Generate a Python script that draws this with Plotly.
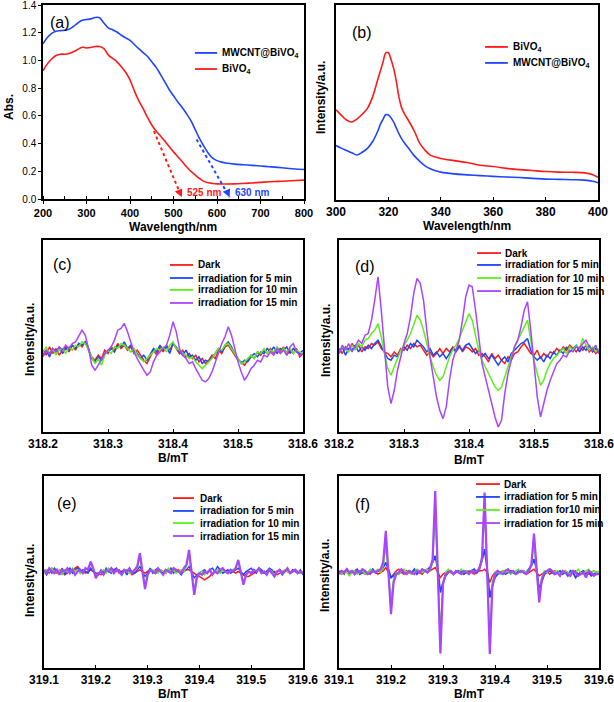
import plotly.graph_objects as go

W, H = 614, 702
FONT = "Liberation Sans, Arial, Helvetica, sans-serif"
RED, BLUE, GREEN, PURPLE = "#ff1a1a", "#1f45ff", "#5cf01a", "#a944ff"

# ---------------- (a) UV-vis absorbance ----------------
wl_a = [200, 210, 220, 230, 240, 250, 260, 270, 280, 290, 300, 310, 320, 330, 340, 350,
        360, 370, 380, 390, 400, 410, 420, 430, 440, 450, 460, 470, 480, 490, 500, 510,
        520, 530, 540, 550, 560, 570, 580, 590, 600, 610, 620, 640, 660, 680, 700, 720,
        740, 760, 780, 800]
abs_mwcnt = [1.12, 1.165, 1.195, 1.21, 1.215, 1.218, 1.225, 1.245, 1.27, 1.29, 1.295, 1.30,
             1.31, 1.308, 1.27, 1.235, 1.222, 1.205, 1.182, 1.163, 1.145, 1.115, 1.085, 1.057,
             1.03, 0.99, 0.95, 0.90, 0.845, 0.79, 0.745, 0.70, 0.66, 0.615, 0.565, 0.50, 0.435,
             0.38, 0.33, 0.295, 0.277, 0.266, 0.26, 0.252, 0.247, 0.243, 0.238, 0.233, 0.228,
             0.222, 0.217, 0.213]
abs_bivo4 = [0.925, 0.975, 1.01, 1.035, 1.045, 1.045, 1.05, 1.062, 1.08, 1.095, 1.09, 1.093,
             1.10, 1.10, 1.085, 1.04, 1.015, 0.99, 0.955, 0.915, 0.86, 0.78, 0.71, 0.654, 0.59,
             0.534, 0.49, 0.455, 0.418, 0.378, 0.34, 0.305, 0.27, 0.233, 0.20, 0.173, 0.148,
             0.127, 0.117, 0.112, 0.109, 0.108, 0.108, 0.109, 0.112, 0.116, 0.12, 0.124, 0.127,
             0.13, 0.133, 0.136]
tan_red_x = [455, 519]
tan_red_y = [0.49, 0.012]
tan_blue_x = [553, 629]
tan_blue_y = [0.43, 0.012]
edge_labels = ["525 nm", "630 nm"]
legend_a = ["MWCNT@BiVO<sub>4</sub>", "BiVO<sub>4</sub>"]

# ---------------- (b) PL spectra ----------------
wl_b = [300, 302, 304, 306, 308, 310, 312, 314, 316, 317, 318, 319, 320, 321, 322, 323, 324,
        325, 326, 328, 330, 332, 334, 336, 338, 340, 345, 350, 355, 360, 365, 370, 375, 380,
        385, 390, 395, 398, 400]
pl_bivo4 = [46.2, 43.5, 41, 40, 41.5, 44, 47, 53, 62, 66.5, 71, 75.5, 75.5, 72, 67.5, 61, 53,
            47.5, 44.5, 40, 35, 29, 25.5, 23, 22, 21.3, 20.2, 19.2, 17.8, 17.2, 16.2, 15.6,
            15.1, 14.6, 14.3, 14.2, 13.9, 13.0, 11.7]
pl_mwcnt = [27.9, 26.6, 25.4, 24.2, 23.1, 24.5, 26.5, 30, 35.5, 39, 41.5, 43.8, 43.6, 42.2, 40,
            37, 34, 31.5, 29.5, 26, 22.5, 19.8, 17.5, 16, 15, 14.3, 13.4, 12.9, 12.5, 12.1,
            11.8, 11.5, 11.1, 10.7, 10.6, 10.4, 10.2, 9.6, 8.8]
legend_b = ["BiVO<sub>4</sub>", "MWCNT@BiVO<sub>4</sub>"]

# ---------------- (c)-(f) EPR ----------------
field_cd_start, field_cd_step = 318.2, 0.005
field_ef_start, field_ef_step = 319.1, 0.005
ticks_cd = [318.2, 318.3, 318.4, 318.5, 318.6]
ticks_ef = [319.1, 319.2, 319.3, 319.4, 319.5, 319.6]
labels_cde = ["Dark", "irradiation for 5 min", "irradiation for 10 min", "irradiation for 15 min"]
labels_f = ["Dark", "irradiation for 5 min", "irradiation for10 min", "irradiation for 15 min"]

c_dark = [0.5, -1.0, 1.5, -0.5, 1.0, -1.0, 0.5, 1.5, 0.0, 2.0,
          0.5, 2.5, 1.5, 3.0, 0.5, -1.5, -2.5, -1.0, -2.0, 0.5,
          -0.5, 1.5, 0.5, 2.5, 1.0, 2.0, 0.5, 1.5, -0.5, 0.5,
          -1.0, -2.5, -3.5, -1.5, 0.5, -1.0, 1.5, 0.0, 2.0, 0.5,
          2.5, 1.0, -0.5, 0.5, -1.5, -0.5, -2.0, -1.0, -3.0, -2.0,
          -3.5, -2.5, -1.0, -2.0, 0.5, -0.5, 1.5, 2.0, 0.5, -1.0,
          -2.5, -3.0, -4.0, -2.5, -1.0, -2.0, 0.0, -1.0, 0.5, -0.5,
          1.0, -0.5, 1.5, 0.0, 1.5, -1.0, 0.5, -0.5, 1.0, -1.5,
          -0.5]
c_5 = [-1.0, 0.5, -1.5, 1.0, 0.0, 1.5, -0.5, 1.0, 0.5, 2.0,
       1.0, 2.5, 2.0, 3.0, 1.0, -2.0, -3.0, -1.5, -2.5, -0.5,
       0.0, 1.0, 0.0, 2.0, 1.5, 3.0, 1.0, 2.0, 0.5, -0.5,
       -2.0, -1.0, -2.5, -0.5, 1.0, 0.0, 2.0, 0.5, 1.5, -0.5,
       2.5, 1.5, 0.0, -1.0, 0.5, -1.5, -1.0, -2.5, -1.5, -3.5,
       -2.5, -3.0, -1.5, -0.5, 1.0, 0.0, 2.0, 3.0, 1.5, -0.5,
       -2.0, -3.5, -2.5, -3.0, -1.5, -0.5, -1.5, 0.0, -0.5, 1.0,
       0.0, 1.5, -0.5, 1.0, 0.5, 1.5, -0.5, 1.0, 0.0, -0.5,
       0.5]
c_10 = [0.0, 1.5, -0.5, 1.0, -1.0, 0.5, 1.0, -0.5, 1.5, 0.5,
        2.0, 1.5, 3.0, 2.5, 0.5, -1.5, -3.5, -2.0, -4.0, -1.0,
        0.5, -0.5, 1.5, 1.0, 2.5, 2.0, 1.0, 0.0, 1.0, -1.0,
        -2.0, -3.0, -2.0, -1.0, 0.0, 1.0, 0.5, 1.5, 0.0, 2.0,
        3.0, 1.0, 0.5, -0.5, -1.0, -2.0, -1.5, -3.0, -4.0, -5.0,
        -4.0, -3.0, -2.0, -0.5, 1.0, 0.5, 2.0, 2.5, 1.0, -0.5,
        -2.0, -3.5, -3.0, -2.0, -1.0, -2.0, 0.0, -0.5, 1.0, -0.5,
        0.5, 0.0, 1.5, -0.5, 1.0, 0.0, 1.0, -0.5, 0.5, 0.0,
        -0.5]
c_15 = [-1.5, 0.5, -0.5, 1.0, 0.0, 1.5, 0.5, 2.0, 1.0, 2.5,
        3.0, 5.0, 6.5, 5.0, 1.0, -4.0, -5.5, -4.0, -2.0, -0.5,
        0.5, 1.5, 3.5, 6.5, 7.0, 8.5, 6.0, 3.0, 0.0, -2.0,
        -4.0, -5.5, -7.0, -6.0, -3.0, -1.0, 0.0, 1.0, 2.0, 5.0,
        9.0, 6.0, 1.0, -1.0, -2.0, -3.5, -3.0, -5.0, -7.0, -8.5,
        -9.0, -8.0, -6.0, -3.0, 0.0, 2.5, 4.5, 7.5, 5.0, 1.0,
        -3.0, -6.0, -8.5, -7.0, -5.0, -4.0, -2.5, -3.0, -1.0, -1.5,
        0.0, -1.0, 1.0, -0.5, 0.5, -1.0, 1.5, 2.5, 0.0, -1.0,
        -0.5]

d_dark = [0.5, -1.0, 1.0, 0.0, 2.0, 0.5, 1.5, -0.5, 1.0, 0.5,
          2.0, 1.5, 2.5, 0.5, -0.5, -1.0, -2.0, -0.5, -1.5, 0.5,
          0.0, 1.5, 0.5, 2.0, 1.0, 1.5, 0.0, -1.5, -0.5, -2.0,
          -1.0, 0.5, -1.0, 0.5, -0.5, 1.0, 0.0, 1.5, -0.5, 1.0,
          0.5, -0.5, 0.5, -1.5, -1.0, -2.0, -3.5, -1.0, -2.5, -1.5,
          -3.0, -4.0, -2.0, -3.0, -1.0, -0.5, 1.0, 2.0, 0.5, -1.0,
          -1.5, 0.0, -2.5, -1.0, -2.0, -0.5, -1.0, 0.5, -0.5, 1.0,
          0.0, 1.5, 0.5, -0.5, 1.0, 0.0, 1.5, -0.5, 0.5, -1.0,
          0.0]
d_5 = [-1.0, 1.0, -1.5, 0.5, 0.0, 1.5, -0.5, 1.0, 0.0, 1.5,
       0.5, 2.0, 3.0, 1.0, -1.0, -2.5, -3.0, -1.5, -2.0, 0.0,
       1.0, 0.0, 2.0, 1.0, 3.0, 2.0, 1.0, -0.5, 0.5, -1.5,
       -0.5, -2.0, -1.0, -2.5, -1.0, 0.5, -0.5, 1.0, 0.0, 1.5,
       2.0, 0.5, -1.0, 0.0, -2.0, -1.0, -2.5, -1.5, -3.0, -4.5,
       -3.0, -2.0, -3.5, -1.0, 0.0, 1.0, 2.0, 2.5, 3.5, 0.0,
       -2.0, -3.0, -2.0, -3.5, -1.5, -2.5, -0.5, -1.5, 0.0, -1.0,
       1.0, -0.5, 0.5, 1.5, -0.5, 1.0, 0.0, 1.5, -0.5, 0.5,
       -1.0]
d_10 = [-0.5, 1.0, 0.5, -0.5, 1.5, 0.0, 2.0, 1.0, 3.0, 3.5,
        5.0, 6.0, 8.0, 4.0, -1.0, -5.5, -7.5, -5.0, -2.0, 0.0,
        1.5, 3.0, 5.0, 8.0, 10.5, 9.0, 6.0, 2.0, -2.0, -5.0,
        -7.5, -9.0, -8.0, -5.0, -2.0, 0.0, 1.5, 3.5, 6.0, 9.0,
        11.0, 9.0, 4.0, 0.0, -3.0, -5.0, -7.0, -9.0, -11.0, -12.0,
        -11.0, -8.0, -5.0, -2.0, 1.0, 3.0, 5.0, 7.5, 9.0, 3.0,
        -3.0, -7.0, -10.5, -9.0, -6.0, -4.0, -2.5, -1.5, -0.5, 0.5,
        -1.0, 1.0, 0.0, 1.5, 0.5, 3.5, 1.5, 0.0, 1.0, -0.5,
        0.5]
d_15 = [-1.0, 1.5, 0.0, 2.0, -0.5, 1.5, 3.0, 2.0, 4.5, 5.0,
        9.0, 15.0, 22.0, 12.0, 0.0, -11.0, -16.0, -12.0, -6.0, -2.0,
        2.0, 5.0, 10.0, 17.0, 21.5, 20.0, 15.0, 6.0, -2.0, -8.0,
        -14.0, -18.0, -20.5, -17.0, -9.0, -3.0, 0.0, 3.0, 9.0, 16.0,
        19.5, 19.0, 12.0, 3.0, -4.0, -8.0, -12.0, -16.0, -20.0, -23.0,
        -21.0, -13.0, -7.0, -3.0, 1.0, 3.0, 7.0, 12.0, 14.5, 6.0,
        -5.0, -14.0, -20.0, -16.0, -12.0, -9.0, -6.5, -4.0, -3.0, -1.5,
        -2.0, 0.0, -0.5, 1.0, 0.5, 2.0, 3.0, 1.0, 0.0, 1.5,
        -1.0]

e_dark = [0.0, 0.5, -0.5, 1.0, 0.0, -0.5, 0.5, 0.0, -1.0, -0.5, 0.5, 0.0, 1.0, 1.5, 0.5, 0.0, -0.5, 0.0,
          0.5, 0.0, -0.5, -0.5,
          -1.0, 0.0, 0.5, 0.0, 1.0, 0.5, 0.0, 0.5, -0.5, 0.0, 0.5, 0.0, -1.0, -0.5, 0.0,
          0.5, 0.0, -0.5, 0.0,
          0.5, 0.0, -0.5, 0.0, 0.5, 0.0, -0.5, 0.5, 0.0, 0.5, 0.0, 0.5, -0.5, 0.0, 0.5,
          0.5, 0.0, -0.5, -1.0,
          -1.5, -2.0, -2.5, -2.0, -1.5, -0.5, 0.0, 0.5, 0.0, 0.5, 0.0, -0.5, 0.5, 0.0, -0.5,
          0.0, -0.5, -1.0, -1.5,
          -1.5, -1.0, -0.5, 0.0, 0.5, 0.0, -0.5, 0.0, 0.5, -0.5, 0.0, -1.0, -0.5, 0.0, 0.5, 0.0,
          -0.5, 0.0, 0.5, 0.0, -0.5, 0.0]
e_5 = [0.0, -1.0, 0.5, -0.5, 1.0, 0.0, -0.5, 1.0, -1.0, 0.5, 1.0, -0.5, 0.5, 1.0, -0.5, 0.5, 0.0, -0.5,
       1.0, 0.0, -0.5, -1.0,
       0.5, -0.5, 1.0, 0.0, -0.5, 0.5, 1.0, -0.5, 0.0, 0.5, -1.0, 0.5, 0.0, -0.5, 0.5,
       1.5, 0.0, -1.5, -0.5,
       1.0, -0.5, 0.5, 1.0, 0.0, -0.5, 0.5, 0.0, 1.0, -0.5, 0.5, 0.0, -1.0, 0.5, 0.5,
       1.5, 0.0, -2.0, -1.0,
       -0.5, 0.0, 0.5, -0.5, 0.5, 1.0, 0.0, 1.5, 0.5, -0.5, 0.0, 0.5, -0.5, 0.0, 0.5,
       1.0, 0.0, -1.0, 0.0,
       0.5, 1.0, 0.0, -0.5, 1.0, 0.5, -0.5, 0.0, 1.0, 0.5, -0.5, 0.0, 0.5, -1.0, 0.0, 0.5,
       -0.5, 0.5, 0.0, -0.5, 0.5, -1.0]
e_10 = [-0.5, 0.5, 0.0, 1.0, -0.5, 0.0, 0.5, -1.0, 0.5, 0.0, -0.5, 1.0, 0.0, 0.5, -0.5, 0.0, 0.5, 1.0,
        2.5, 0.5, -1.5, -0.5,
        0.0, 0.5, -0.5, 1.0, 0.0, -0.5, 0.5, 0.0, -1.0, 0.0, 0.5, -0.5, 0.0, 0.5, 1.0,
        4.5, 0.0, -4.0, -1.0,
        0.0, 0.5, 0.0, -0.5, 0.5, 0.0, -0.5, 1.0, 0.0, 0.5, -0.5, 0.0, 0.5, 0.0, 1.5,
        5.0, 0.0, -5.5, -1.5,
        -0.5, 0.0, -1.0, 0.0, 0.5, -0.5, 0.0, 0.5, -0.5, 0.5, 0.0, -0.5, 0.0, 0.5, 1.0,
        3.0, 0.0, -3.5, -1.0,
        0.0, -0.5, 0.5, 0.0, 0.5, -0.5, 0.0, -0.5, 0.5, 0.0, -1.0, 0.0, 0.5, -0.5, 0.5, 0.0,
        -0.5, 0.0, 0.5, 0.0, -0.5, 0.0]
e_15 = [0.5, -0.5, 1.0, 0.0, -0.5, 0.5, -1.0, 0.5, 0.0, 1.0, -0.5, 0.5, -1.0, 0.0, 0.5, -0.5, 1.0, 0.5,
        3.0, 1.0, -2.0, -0.5,
        0.0, -1.0, 0.5, 0.0, 1.0, -0.5, 0.5, 0.0, -1.0, 0.5, 0.0, 1.0, -0.5, 0.5, 1.5,
        5.5, 0.0, -5.3, -1.0,
        0.5, 0.0, -0.5, 1.0, 0.0, -1.0, 0.5, 0.0, -0.5, 1.0, 0.5, 0.0, -0.5, 1.0, 2.0,
        6.5, 0.0, -7.0, -2.0,
        -0.5, -1.0, 0.0, -0.5, 0.5, -1.0, 0.0, -0.5, 0.5, 1.0, 0.0, -0.5, 0.5, 0.0, 1.0,
        3.5, 0.0, -4.0, -1.0,
        0.0, -0.5, 0.5, 0.0, 1.0, -0.5, 0.0, -1.0, 0.5, -0.5, -1.5, 0.0, 0.5, -0.5, 0.0, 1.0,
        -0.5, 0.0, 0.5, -0.5, 0.0, -0.5]

f_dark = [0.0, 0.5, -0.5, 1.0, 0.0, 0.5, -0.5, 0.0, 0.5, 0.0, -0.5, 0.0, -0.5, 0.5, 0.0, -0.5, 0.0, 0.5,
          1.5, 0.0, -1.5, -0.5,
          0.5, 1.0, 0.0, -0.5, 0.5, 0.0, -0.5, 0.0, 0.5, 0.0, -0.5, 0.5, 0.0, 0.5, 1.0,
          1.5, 0.0, -1.5, -0.5,
          0.0, 0.5, 0.0, -0.5, 0.5, 0.0, 0.5, -0.5, 0.0, 0.5, 0.0, -0.5, 0.0, 0.5, 0.5,
          1.0, 0.0, -3.0, -1.0,
          0.0, 0.5, 0.0, -0.5, 0.5, 0.0, 0.5, 0.0, -0.5, 0.0, 0.5, 0.0, -0.5, 0.0, 0.5,
          1.0, 0.0, -1.0, -0.5,
          0.0, 0.5, -0.5, 0.0, 0.5, 0.0, -0.5, 0.0, 0.5, 0.0, -0.5, 0.0, 0.5, -0.5, 0.0, 0.5,
          0.0, -0.5, 0.0, 0.5, 0.0, -0.5]
f_5 = [0.5, -0.5, 0.0, 1.0, -0.5, 0.0, 0.5, 1.0, -0.5, 0.0, 0.5, -0.5, 0.0, 1.0, 0.0, 0.5, 0.5, 1.5,
       3.0, 1.0, -1.5, -1.0,
       0.0, -0.5, 0.5, 0.0, -0.5, 0.5, 0.0, 1.0, -0.5, 0.5, 0.0, 0.5, 1.0, 1.5, 3.0,
       5.0, 1.0, -6.0, -3.0,
       -1.0, 0.0, 0.5, -0.5, 0.0, 0.5, 0.0, -0.5, 0.5, 0.0, 0.5, 1.0, 0.0, 1.5, 3.5,
       7.0, 1.0, -7.5, -4.0,
       -1.5, -0.5, 0.0, 0.5, -0.5, 0.0, 0.5, 0.0, -0.5, 0.5, 0.0, 0.5, 0.0, 1.0, 2.0,
       4.0, 1.0, -5.0, -2.5,
       -0.5, 0.0, 0.5, 0.0, -0.5, 0.0, 0.5, -0.5, 0.0, -1.0, 0.5, 0.0, -1.5, -0.5, 0.0, 0.5,
       -0.5, 0.0, -1.0, -0.5, 0.0, -0.5]
f_10 = [0.0, -0.5, 0.5, 0.0, -1.0, 0.0, 0.5, -0.5, 0.0, 0.5, -0.5, 0.0, 1.0, 0.0, 0.5, 1.0, 0.0, 2.0,
        8.0, 0.0, -8.0, -2.0,
        0.0, -0.5, 0.5, 1.0, 0.0, 0.5, -0.5, 0.0, 1.0, 0.5, 0.0, 0.5, 1.0, 0.5, 3.0,
        17.0, 0.0, -18.0, -3.0,
        0.0, 1.0, 0.0, -0.5, 0.5, 0.0, 1.0, 0.0, 0.5, -0.5, 0.5, 0.0, 0.5, 1.0, 3.5,
        19.0, 0.0, -20.0, -3.0,
        0.0, 0.5, -0.5, 0.5, 0.0, 0.5, -0.5, 0.0, 0.5, 1.0, 0.0, 0.5, 0.0, 0.5, 2.0,
        10.0, 0.0, -7.0, -1.5,
        0.5, 0.0, 1.0, 0.5, 0.0, 0.5, -0.5, 0.0, 0.5, 0.0, -0.5, 0.5, 0.0, 1.0, 0.0, -0.5,
        0.5, 1.0, 0.0, 0.5, 0.0, 0.5]
f_15 = [-0.5, 0.5, 0.0, 1.0, 0.0, 0.5, -0.5, 0.5, 0.0, 1.0, 0.5, -0.5, 0.0, 0.5, 0.0, 0.5, 1.0, 3.0,
        12.5, 0.0, -12.5, -3.0,
        -0.5, 0.0, 1.0, 0.0, -0.5, 0.5, 0.0, -0.5, 0.5, 0.0, 1.0, 0.5, 0.0, 1.0, 4.0,
        24.5, 0.0, -24.3, -3.5,
        -0.5, 0.0, 0.5, -0.5, 0.5, 0.0, -0.5, 0.5, 0.0, -0.5, 0.5, 0.0, 0.5, 1.0, 4.5,
        24.0, 0.0, -24.5, -4.0,
        -0.5, 0.5, 0.0, -0.5, 0.5, 1.0, 0.0, 0.5, -0.5, 0.0, 0.5, 0.0, -0.5, 0.5, 2.5,
        11.7, 0.0, -9.0, -2.0,
        0.0, 0.5, 1.0, 0.5, -0.5, 0.0, -1.0, 0.5, 0.0, -0.5, -1.0, 0.5, 0.0, -1.0, -0.5, 0.0,
        -1.5, 0.5, 0.0, -1.0, -0.5, -0.5]

for arr in (c_dark, c_5, c_10, c_15, d_dark, d_5, d_10, d_15):
    assert len(arr) == 81, len(arr)
for arr in (e_dark, e_5, e_10, e_15, f_dark, f_5, f_10, f_15):
    assert len(arr) == 101, len(arr)

field_cd = [round(field_cd_start + field_cd_step * i, 4) for i in range(81)]
field_ef = [round(field_ef_start + field_ef_step * i, 4) for i in range(101)]

# ---------------- layout helpers ----------------
boxes = {1: (43, 304, 5, 199), 2: (336, 598, 5, 200), 3: (43, 303, 240, 432),
         4: (339, 599, 240, 432), 5: (44, 303, 476, 668), 6: (339, 599, 476, 668)}
yranges = {1: [0, 1.4], 2: [0, 100], 3: [-24, 33.5], 4: [-24.5, 33], 5: [-29, 28.7], 6: [-28.7, 29]}


def sfx(n):
    return '' if n == 1 else str(n)


fig = go.Figure()


def add(n, x, y, color, width=1.4, shape='linear', dash='solid'):
    fig.add_trace(go.Scatter(x=x, y=y, mode='lines',
                             line=dict(color=color, width=width, shape=shape, dash=dash),
                             xaxis='x' + sfx(n), yaxis='y' + sfx(n),
                             showlegend=False, hoverinfo='skip'))


# (a)
add(1, wl_a, abs_mwcnt, BLUE, 1.6, 'spline')
add(1, wl_a, abs_bivo4, RED, 1.6, 'spline')
add(1, tan_red_x, tan_red_y, RED, 2, dash='dot')
add(1, tan_blue_x, tan_blue_y, BLUE, 2, dash='dot')
# (b)
add(2, wl_b, pl_bivo4, RED, 1.6, 'spline')
add(2, wl_b, pl_mwcnt, BLUE, 1.6, 'spline')
# (c)-(f)
cols4 = [RED, BLUE, GREEN, PURPLE]
for n, xs, sets in [(3, field_cd, [c_dark, c_5, c_10, c_15]),
                    (4, field_cd, [d_dark, d_5, d_10, d_15]),
                    (5, field_ef, [e_dark, e_5, e_10, e_15]),
                    (6, field_ef, [f_dark, f_5, f_10, f_15])]:
    for k, (ys, col) in enumerate(zip(sets, cols4)):
        wid = 1.5
        if n in (5, 6) and k == 3:
            wid = 2.2
        if n == 6 and k == 1:
            wid = 1.8
        add(n, xs, ys, col, wid)

layout = {}
for n, (l, r, t, b) in boxes.items():
    s = sfx(n)
    layout['xaxis' + s] = dict(domain=[l / W, r / W], anchor='y' + s, showline=True, mirror=True,
                               linecolor='black', linewidth=1.5, showgrid=False, zeroline=False,
                               automargin=False, ticklabeloverflow='allow',
                               ticks='inside', ticklen=3, tickcolor='black', tickwidth=1,
                               tickfont=dict(family=FONT, size=12, color='black', weight='bold'))
    layout['yaxis' + s] = dict(domain=[1 - b / H, 1 - t / H], anchor='x' + s, showline=True,
                               mirror=True, linecolor='black', linewidth=1.5, showgrid=False,
                               automargin=False,
                               zeroline=False, range=yranges[n], showticklabels=False, ticks='')

layout['xaxis'].update(range=[200, 800], dtick=100, tick0=200, ticks='outside',
                       minor=dict(dtick=50, ticks='inside', ticklen=3, tickcolor='black'),
                       tickfont=dict(family=FONT, size=11, color='black', weight='bold'))
layout['yaxis'].update(showticklabels=True, ticks='outside', ticklen=3, dtick=0.2, tick0=0,
                       tickformat='.1f', tickcolor='black', ticklabeloverflow='allow',
                       tickfont=dict(family=FONT, size=10, color='black'))
layout['xaxis2'].update(range=[300, 400], dtick=20, tick0=300)
for n in (3, 4):
    layout['xaxis' + str(n)].update(range=[318.2, 318.6], tickvals=ticks_cd,
                                    ticktext=[f"{v:.1f}" for v in ticks_cd])
for n in (5, 6):
    layout['xaxis' + str(n)].update(range=[319.1, 319.6], tickvals=ticks_ef,
                                    ticktext=[f"{v:.1f}" for v in ticks_ef])


def txt(x, y, text, size=12, bold=True, color='black', xanchor='center', angle=0):
    return dict(x=x / W, y=1 - y / H, xref='paper', yref='paper', text=text, showarrow=False,
                font=dict(family=FONT, size=size, color=color, weight='bold' if bold else 'normal'),
                xanchor=xanchor, yanchor='middle', textangle=angle)


ann = []
# panel letters
for lab, x, y in [("(a)", 48, 23), ("(b)", 350, 32), ("(c)", 51, 264), ("(d)", 353, 266),
                  ("(e)", 55, 503), ("(f)", 353, 504)]:
    ann.append(txt(x, y, lab, size=16, bold=False, xanchor='left'))
# axis titles
ann += [txt(173, 227, "Wavelength/nm"), txt(467, 226, "Wavelength/nm"),
        txt(173, 458, "B/mT"), txt(469, 460, "B/mT"),
        txt(173, 694, "B/mT"), txt(469, 694, "B/mT"),
        txt(9, 107, "Abs.", angle=-90), txt(321, 98, "Intensity/a.u.", angle=-90),
        txt(30, 340, "Intensity/a.u.", angle=-90), txt(326, 341, "Intensity/a.u.", angle=-90),
        txt(30, 581, "Intensity/a.u.", angle=-90), txt(325, 576, "Intensity/a.u.", angle=-90)]

# tangent arrowheads and labels in (a)
for tx, ty, col in [(tan_red_x, tan_red_y, RED), (tan_blue_x, tan_blue_y, BLUE)]:
    ann.append(dict(x=tx[1], y=ty[1], ax=tx[1] - 7, ay=ty[1] + 0.05, xref='x', yref='y',
                    axref='x', ayref='y', showarrow=True, arrowhead=2, arrowsize=1,
                    arrowwidth=1.6, arrowcolor=col, text=''))
ann.append(dict(x=527, y=0.046, xref='x', yref='y', text=edge_labels[0], showarrow=False,
                xanchor='left', font=dict(family=FONT, size=10, color=RED, weight='bold')))
ann.append(dict(x=637, y=0.046, xref='x', yref='y', text=edge_labels[1], showarrow=False,
                xanchor='left', font=dict(family=FONT, size=10, color=BLUE, weight='bold')))

# legends (drawn manually inside each panel)
shapes = []
legends = {
    1: (0.582, 0.667, 0.678, [0.753, 0.670], legend_a, [BLUE, RED]),
    2: (0.569, 0.656, 0.668, [0.785, 0.703], legend_b, [RED, BLUE]),
    3: (0.488, 0.577, 0.588, [0.870, 0.802, 0.740, 0.672], labels_cde, cols4),
    4: (0.531, 0.623, 0.631, [0.932, 0.870, 0.802, 0.734], labels_cde, cols4),
    5: (0.498, 0.579, 0.595, [0.885, 0.818, 0.755, 0.6875], labels_cde, cols4),
    6: (0.527, 0.619, 0.627, [0.958, 0.891, 0.823, 0.755], labels_f, cols4),
}
for n, (x0, x1, tx, ys, labs, cols) in legends.items():
    s = sfx(n)
    for y, lab, col in zip(ys, labs, cols):
        shapes.append(dict(type='line', xref='x' + s + ' domain', yref='y' + s + ' domain',
                           x0=x0, x1=x1, y0=y, y1=y, line=dict(color=col, width=1.8)))
        ann.append(dict(x=tx, y=y, xref='x' + s + ' domain', yref='y' + s + ' domain',
                        text=lab, showarrow=False, xanchor='left', yanchor='middle',
                        font=dict(family=FONT, size=10, color='black', weight='bold')))

fig.update_layout(width=W, height=H, margin=dict(l=0, r=0, t=0, b=0, autoexpand=False),
                  paper_bgcolor='white', plot_bgcolor='white', showlegend=False,
                  annotations=ann, shapes=shapes, **layout)
fig.write_html("out.html", config={'displayModeBar': False},
               post_script="document.body.style.margin='0';document.body.style.overflow='hidden';")
